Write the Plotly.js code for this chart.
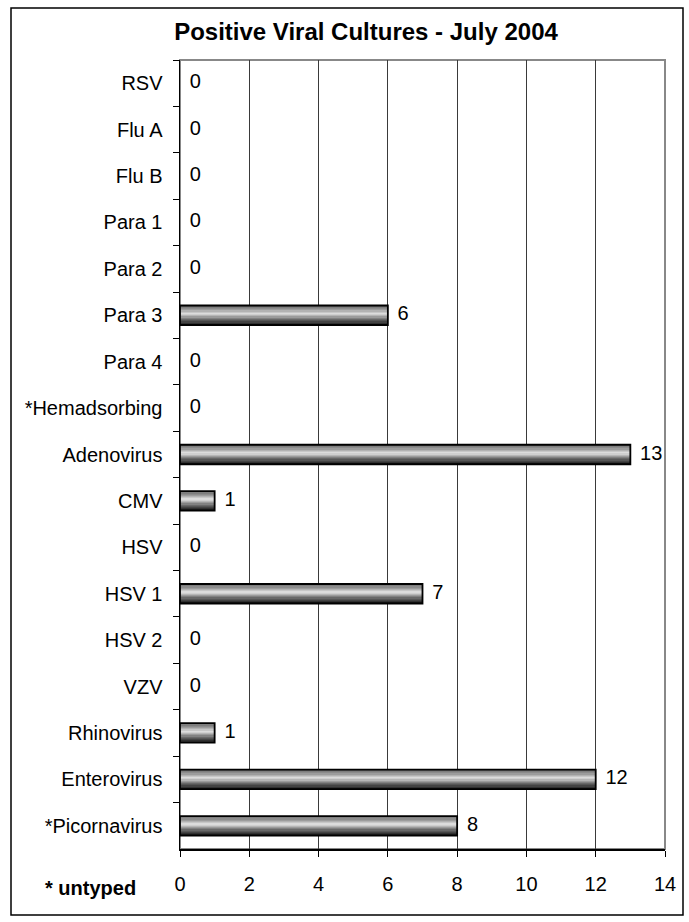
<!DOCTYPE html>
<html>
<head>
<meta charset="utf-8">
<script src="https://cdn.plot.ly/plotly-3.0.1.min.js"></script>
<style>html,body{margin:0;padding:0;background:#fff;}#chart{width:689px;height:922px;}</style>
</head>
<body>
<div id="chart"></div>
<script>
// ---- data ----
var categories = ['RSV','Flu A','Flu B','Para 1','Para 2','Para 3','Para 4','*Hemadsorbing','Adenovirus','CMV','HSV','HSV 1','HSV 2','VZV','Rhinovirus','Enterovirus','*Picornavirus'];
var values = [0,0,0,0,0,6,0,0,13,1,0,7,0,0,1,12,8];
var xTicks = [0,2,4,6,8,10,12,14];
var titleText = 'Positive Viral Cultures - July 2004';
var noteText = '* untyped';

// ---- style ----
var FONT = 'Liberation Sans, Arial, sans-serif';
var FS = 20;
var barW = 0.42;
var nBands = 16;
var stops = [[0,105],[0.2,150],[0.42,225],[0.5,195],[0.7,110],[1,20]];
function shade(t){
  for (var i=1;i<stops.length;i++){
    if (t<=stops[i][0]){
      var a=stops[i-1], b=stops[i];
      var f=(t-a[0])/(b[0]-a[0]);
      var v=Math.round(a[1]+(b[1]-a[1])*f);
      return 'rgb('+v+','+v+','+v+')';
    }
  }
  return 'rgb(20,20,20)';
}

var traces = [];
var bw = barW/nBands;
for (var i=0;i<nBands;i++){
  traces.push({
    type:'bar', orientation:'h', x: values, y: categories,
    width: bw*1.05, offset: -barW/2 + i*bw,
    marker:{color: shade((i+0.5)/nBands), line:{width:0}},
    hoverinfo:'skip', showlegend:false
  });
}
traces.push({
  type:'bar', orientation:'h', x: values, y: categories,
  width: barW, offset: -barW/2,
  marker:{color:'rgba(0,0,0,0)', line:{color:'#000', width: values.map(function(v){return v>0?1.8:0;})}},
  hoverinfo:'skip', showlegend:false
});
traces.push({
  type:'scatter', mode:'markers+text', x: values, y: categories,
  text: values.map(String), textposition:'middle right',
  marker:{size:14, opacity:0},
  textfont:{family:FONT, size:FS, color:'#000'},
  hoverinfo:'skip', showlegend:false, cliponaxis:false
});

// plot area in pixels: x 180-665, y 60-849
var L=180, R=689-665, T=60, B=922-849;
var pw=689-L-R, ph=922-T-B;
function px(x){return (x-L)/pw;}
function py(y){return (922-B-y)/ph;}

var layout = {
  width:689, height:922,
  margin:{l:L, r:R, t:T, b:B, pad:0},
  paper_bgcolor:'#fff', plot_bgcolor:'#fff',
  barmode:'overlay', bargap:0,
  font:{family:FONT, size:FS, color:'#000'},
  title:{text:'<b>'+titleText+'</b>', font:{family:FONT, size:24, color:'#000'},
    xref:'container', yref:'container', x:366/689, y:1-32/922, xanchor:'center', yanchor:'middle'},
  xaxis:{range:[0,14], tickvals:xTicks, ticktext:xTicks.map(String),
    showgrid:true, gridcolor:'#3a3a3a', gridwidth:1,
    ticks:'outside', ticklen:6, tickcolor:'#000', tickwidth:1,
    showline:true, linecolor:'#000', linewidth:1.5,
    zeroline:false, ticklabelstandoff:10,
    tickfont:{family:FONT, size:FS, color:'#000'}, fixedrange:true},
  yaxis:{type:'category', categoryorder:'array', categoryarray:categories,
    range:[categories.length-0.5, -0.5], autorange:false, tickson:'boundaries',
    ticks:'outside', ticklen:6, tickcolor:'#000', tickwidth:1,
    showline:true, linecolor:'#000', linewidth:1.5, showgrid:false, zeroline:false,
    ticklabelstandoff:12,
    tickfont:{family:FONT, size:FS, color:'#000'}, fixedrange:true},
  shapes:[
    {type:'rect', xref:'paper', yref:'paper', x0:0, x1:1, y0:0, y1:1,
     line:{color:'#888', width:2}, layer:'below'},
    {type:'rect', xref:'paper', yref:'paper', x0:px(11), x1:px(683), y0:py(915), y1:py(8),
     line:{color:'#000', width:1.5}}
  ],
  annotations:[
    {text:'<b>'+noteText+'</b>', xref:'paper', yref:'paper', x:px(90), y:py(888),
     xanchor:'center', yanchor:'middle', showarrow:false,
     font:{family:FONT, size:FS, color:'#000'}}
  ]
};

Plotly.newPlot('chart', traces, layout, {staticPlot:true, displayModeBar:false});
</script>
</body>
</html>
